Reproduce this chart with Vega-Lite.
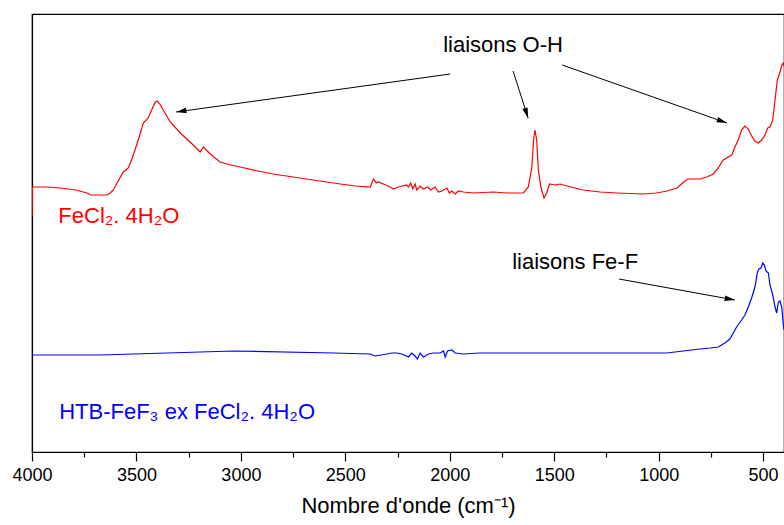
{
  "$schema": "https://vega.github.io/schema/vega-lite/v6.json",
  "width": 752,
  "height": 438,
  "autosize": {"type": "none"},
  "padding": {"left": 32, "top": 14, "right": 0, "bottom": 73},
  "config": {
    "font": "Liberation Sans",
    "view": {"stroke": "black", "strokeWidth": 1.2}
  },
  "datasets": {
    "spectra": [
      {"wn":4000,"a":2.36,"s":"FeCl2"},{"wn":3998,"a":2.65,"s":"FeCl2"},{"wn":3930,"a":2.65,"s":"FeCl2"},{"wn":3865,"a":2.64,"s":"FeCl2"},{"wn":3790,"a":2.62,"s":"FeCl2"},{"wn":3737,"a":2.59,"s":"FeCl2"},{"wn":3720,"a":2.57,"s":"FeCl2"},{"wn":3673,"a":2.57,"s":"FeCl2"},{"wn":3641,"a":2.57,"s":"FeCl2"},{"wn":3625,"a":2.59,"s":"FeCl2"},{"wn":3611,"a":2.62,"s":"FeCl2"},{"wn":3590,"a":2.70,"s":"FeCl2"},{"wn":3563,"a":2.80,"s":"FeCl2"},{"wn":3539,"a":2.84,"s":"FeCl2"},{"wn":3520,"a":2.94,"s":"FeCl2"},{"wn":3496,"a":3.09,"s":"FeCl2"},{"wn":3467,"a":3.29,"s":"FeCl2"},{"wn":3444,"a":3.34,"s":"FeCl2"},{"wn":3425,"a":3.43,"s":"FeCl2"},{"wn":3410,"a":3.50,"s":"FeCl2"},{"wn":3400,"a":3.51,"s":"FeCl2"},{"wn":3385,"a":3.47,"s":"FeCl2"},{"wn":3372,"a":3.42,"s":"FeCl2"},{"wn":3338,"a":3.30,"s":"FeCl2"},{"wn":3290,"a":3.19,"s":"FeCl2"},{"wn":3228,"a":3.07,"s":"FeCl2"},{"wn":3195,"a":3.00,"s":"FeCl2"},{"wn":3180,"a":3.05,"s":"FeCl2"},{"wn":3161,"a":3.01,"s":"FeCl2"},{"wn":3130,"a":2.95,"s":"FeCl2"},{"wn":3099,"a":2.90,"s":"FeCl2"},{"wn":3050,"a":2.87,"s":"FeCl2"},{"wn":3003,"a":2.85,"s":"FeCl2"},{"wn":2920,"a":2.81,"s":"FeCl2"},{"wn":2845,"a":2.78,"s":"FeCl2"},{"wn":2750,"a":2.75,"s":"FeCl2"},{"wn":2654,"a":2.72,"s":"FeCl2"},{"wn":2558,"a":2.69,"s":"FeCl2"},{"wn":2525,"a":2.68,"s":"FeCl2"},{"wn":2450,"a":2.66,"s":"FeCl2"},{"wn":2381,"a":2.65,"s":"FeCl2"},{"wn":2365,"a":2.73,"s":"FeCl2"},{"wn":2352,"a":2.69,"s":"FeCl2"},{"wn":2341,"a":2.70,"s":"FeCl2"},{"wn":2318,"a":2.68,"s":"FeCl2"},{"wn":2286,"a":2.65,"s":"FeCl2"},{"wn":2270,"a":2.63,"s":"FeCl2"},{"wn":2246,"a":2.65,"s":"FeCl2"},{"wn":2206,"a":2.67,"s":"FeCl2"},{"wn":2198,"a":2.65,"s":"FeCl2"},{"wn":2187,"a":2.69,"s":"FeCl2"},{"wn":2177,"a":2.63,"s":"FeCl2"},{"wn":2166,"a":2.68,"s":"FeCl2"},{"wn":2158,"a":2.62,"s":"FeCl2"},{"wn":2142,"a":2.66,"s":"FeCl2"},{"wn":2126,"a":2.63,"s":"FeCl2"},{"wn":2107,"a":2.65,"s":"FeCl2"},{"wn":2091,"a":2.62,"s":"FeCl2"},{"wn":2070,"a":2.65,"s":"FeCl2"},{"wn":2054,"a":2.60,"s":"FeCl2"},{"wn":2038,"a":2.61,"s":"FeCl2"},{"wn":2014,"a":2.64,"s":"FeCl2"},{"wn":2002,"a":2.59,"s":"FeCl2"},{"wn":1990,"a":2.61,"s":"FeCl2"},{"wn":1974,"a":2.58,"s":"FeCl2"},{"wn":1959,"a":2.61,"s":"FeCl2"},{"wn":1935,"a":2.60,"s":"FeCl2"},{"wn":1887,"a":2.59,"s":"FeCl2"},{"wn":1791,"a":2.60,"s":"FeCl2"},{"wn":1727,"a":2.59,"s":"FeCl2"},{"wn":1648,"a":2.59,"s":"FeCl2"},{"wn":1624,"a":2.65,"s":"FeCl2"},{"wn":1607,"a":2.85,"s":"FeCl2"},{"wn":1599,"a":3.12,"s":"FeCl2"},{"wn":1592,"a":3.22,"s":"FeCl2"},{"wn":1584,"a":3.12,"s":"FeCl2"},{"wn":1576,"a":2.82,"s":"FeCl2"},{"wn":1564,"a":2.65,"s":"FeCl2"},{"wn":1549,"a":2.54,"s":"FeCl2"},{"wn":1536,"a":2.59,"s":"FeCl2"},{"wn":1523,"a":2.68,"s":"FeCl2"},{"wn":1496,"a":2.67,"s":"FeCl2"},{"wn":1472,"a":2.68,"s":"FeCl2"},{"wn":1420,"a":2.65,"s":"FeCl2"},{"wn":1362,"a":2.62,"s":"FeCl2"},{"wn":1280,"a":2.60,"s":"FeCl2"},{"wn":1199,"a":2.59,"s":"FeCl2"},{"wn":1075,"a":2.58,"s":"FeCl2"},{"wn":1010,"a":2.59,"s":"FeCl2"},{"wn":960,"a":2.61,"s":"FeCl2"},{"wn":912,"a":2.64,"s":"FeCl2"},{"wn":880,"a":2.70,"s":"FeCl2"},{"wn":860,"a":2.73,"s":"FeCl2"},{"wn":802,"a":2.73,"s":"FeCl2"},{"wn":770,"a":2.75,"s":"FeCl2"},{"wn":738,"a":2.78,"s":"FeCl2"},{"wn":715,"a":2.84,"s":"FeCl2"},{"wn":691,"a":2.92,"s":"FeCl2"},{"wn":667,"a":2.95,"s":"FeCl2"},{"wn":650,"a":2.97,"s":"FeCl2"},{"wn":635,"a":3.05,"s":"FeCl2"},{"wn":619,"a":3.12,"s":"FeCl2"},{"wn":603,"a":3.22,"s":"FeCl2"},{"wn":587,"a":3.26,"s":"FeCl2"},{"wn":571,"a":3.23,"s":"FeCl2"},{"wn":555,"a":3.16,"s":"FeCl2"},{"wn":539,"a":3.11,"s":"FeCl2"},{"wn":523,"a":3.09,"s":"FeCl2"},{"wn":507,"a":3.12,"s":"FeCl2"},{"wn":491,"a":3.17,"s":"FeCl2"},{"wn":478,"a":3.24,"s":"FeCl2"},{"wn":467,"a":3.25,"s":"FeCl2"},{"wn":454,"a":3.32,"s":"FeCl2"},{"wn":443,"a":3.52,"s":"FeCl2"},{"wn":432,"a":3.72,"s":"FeCl2"},{"wn":419,"a":3.80,"s":"FeCl2"},{"wn":410,"a":3.87,"s":"FeCl2"},{"wn":404,"a":3.89,"s":"FeCl2"},{"wn":400,"a":3.86,"s":"FeCl2"},
      {"wn":4000,"a":0.97,"s":"HTB"},{"wn":3673,"a":0.97,"s":"HTB"},{"wn":3354,"a":0.99,"s":"HTB"},{"wn":3035,"a":1.01,"s":"HTB"},{"wn":2557,"a":0.99,"s":"HTB"},{"wn":2381,"a":0.98,"s":"HTB"},{"wn":2357,"a":0.96,"s":"HTB"},{"wn":2301,"a":0.98,"s":"HTB"},{"wn":2277,"a":0.99,"s":"HTB"},{"wn":2253,"a":0.99,"s":"HTB"},{"wn":2230,"a":0.98,"s":"HTB"},{"wn":2198,"a":0.95,"s":"HTB"},{"wn":2182,"a":0.99,"s":"HTB"},{"wn":2166,"a":0.96,"s":"HTB"},{"wn":2155,"a":0.93,"s":"HTB"},{"wn":2142,"a":0.99,"s":"HTB"},{"wn":2126,"a":0.95,"s":"HTB"},{"wn":2102,"a":0.98,"s":"HTB"},{"wn":2078,"a":0.99,"s":"HTB"},{"wn":2046,"a":0.99,"s":"HTB"},{"wn":2030,"a":1.01,"s":"HTB"},{"wn":2022,"a":0.95,"s":"HTB"},{"wn":2011,"a":1.01,"s":"HTB"},{"wn":1990,"a":1.02,"s":"HTB"},{"wn":1974,"a":0.99,"s":"HTB"},{"wn":1935,"a":0.98,"s":"HTB"},{"wn":1855,"a":0.99,"s":"HTB"},{"wn":1663,"a":0.99,"s":"HTB"},{"wn":1281,"a":0.99,"s":"HTB"},{"wn":960,"a":0.99,"s":"HTB"},{"wn":883,"a":1.01,"s":"HTB"},{"wn":802,"a":1.03,"s":"HTB"},{"wn":754,"a":1.04,"s":"HTB"},{"wn":715,"a":1.05,"s":"HTB"},{"wn":683,"a":1.09,"s":"HTB"},{"wn":659,"a":1.13,"s":"HTB"},{"wn":643,"a":1.19,"s":"HTB"},{"wn":627,"a":1.25,"s":"HTB"},{"wn":603,"a":1.32,"s":"HTB"},{"wn":587,"a":1.37,"s":"HTB"},{"wn":571,"a":1.45,"s":"HTB"},{"wn":555,"a":1.54,"s":"HTB"},{"wn":539,"a":1.65,"s":"HTB"},{"wn":528,"a":1.79,"s":"HTB"},{"wn":520,"a":1.83,"s":"HTB"},{"wn":510,"a":1.84,"s":"HTB"},{"wn":502,"a":1.89,"s":"HTB"},{"wn":494,"a":1.87,"s":"HTB"},{"wn":486,"a":1.81,"s":"HTB"},{"wn":475,"a":1.79,"s":"HTB"},{"wn":467,"a":1.67,"s":"HTB"},{"wn":454,"a":1.57,"s":"HTB"},{"wn":443,"a":1.45,"s":"HTB"},{"wn":435,"a":1.39,"s":"HTB"},{"wn":427,"a":1.50,"s":"HTB"},{"wn":419,"a":1.51,"s":"HTB"},{"wn":411,"a":1.45,"s":"HTB"},{"wn":404,"a":1.29,"s":"HTB"},{"wn":400,"a":1.22,"s":"HTB"}
    ],
    "arrows": [
      {"x":1998,"y":3.78,"x2":3310,"y2":3.40},
      {"x":1697,"y":3.81,"x2":1625,"y2":3.34},
      {"x":1462,"y":3.87,"x2":673,"y2":3.29},
      {"x":1190,"y":1.73,"x2":635,"y2":1.52}
    ],
    "notes": [
      {"wn":1745,"a":4.07,"t":"liaisons O-H","c":"black"},
      {"wn":1400,"a":1.90,"t":"liaisons Fe-F","c":"black"}
    ],
    "labels": [
      {"wn":3874,"a":2.29,"t":"FeCl₂. 4H₂O","c":"red"},
      {"wn":3870,"a":0.33,"t":"HTB-FeF₃ ex FeCl₂. 4H₂O","c":"blue"}
    ]
  },
  "layer": [
    {
      "data": {"name": "spectra"},
      "mark": {"type": "line", "strokeWidth": 1.2, "clip": true},
      "encoding": {
        "x": {
          "field": "wn", "type": "quantitative",
          "scale": {"domain": [400, 4000], "reverse": true, "nice": false, "zero": false},
          "axis": {
            "values": [4000,3750,3500,3250,3000,2750,2500,2250,2000,1750,1500,1250,1000,750,500],
            "labelExpr": "datum.value % 500 === 0 ? datum.label : ''",
            "format": "d",
            "tickSize": {"condition": {"test": "datum.value % 500 === 0", "value": 9}, "value": 5},
            "tickColor": "black", "tickWidth": 1.2,
            "domainColor": "black", "domainWidth": 1.2,
            "grid": false,
            "labelFontSize": 18, "labelColor": "black", "labelPadding": 5,
            "labelFlush": false, "labelOverlap": false,
            "title": "Nombre d'onde (cm⁻¹)",
            "titleFontSize": 22, "titleFontWeight": "normal", "titleColor": "black", "titlePadding": 11
          }
        },
        "y": {
          "field": "a", "type": "quantitative",
          "scale": {"domain": [0, 4.38], "nice": false, "zero": false},
          "axis": {"labels": false, "ticks": false, "grid": false, "title": null, "domainColor": "black", "domainWidth": 1.2}
        },
        "color": {
          "field": "s", "type": "nominal",
          "scale": {"domain": ["FeCl2", "HTB"], "range": ["#ff0000", "#0000ff"]},
          "legend": null
        }
      }
    },
    {
      "data": {"name": "arrows"},
      "mark": {"type": "rule", "color": "black", "strokeWidth": 1},
      "encoding": {
        "x": {"field": "x", "type": "quantitative"},
        "y": {"field": "y", "type": "quantitative"},
        "x2": {"field": "x2"},
        "y2": {"field": "y2"}
      }
    },
    {
      "data": {"name": "arrows"},
      "transform": [
        {"calculate": "atan2(-(datum.x2 - datum.x) / 4.785, (datum.y2 - datum.y) * 100) * 180 / PI", "as": "ang"}
      ],
      "mark": {"type": "point", "shape": "M0,0 L0.27,1 L-0.27,1 Z", "filled": true, "color": "black", "opacity": 1, "size": 420, "strokeWidth": 0},
      "encoding": {
        "x": {"field": "x2", "type": "quantitative"},
        "y": {"field": "y2", "type": "quantitative"},
        "angle": {"field": "ang", "type": "quantitative", "scale": null}
      }
    },
    {
      "data": {"name": "notes"},
      "mark": {"type": "text", "fontSize": 22, "font": "Liberation Sans", "align": "center", "baseline": "middle"},
      "encoding": {
        "x": {"field": "wn", "type": "quantitative"},
        "y": {"field": "a", "type": "quantitative"},
        "text": {"field": "t"},
        "color": {"field": "c", "type": "nominal", "scale": null}
      }
    },
    {
      "data": {"name": "labels"},
      "mark": {"type": "text", "fontSize": 22, "font": "Liberation Sans", "align": "left", "baseline": "alphabetic"},
      "encoding": {
        "x": {"field": "wn", "type": "quantitative"},
        "y": {"field": "a", "type": "quantitative"},
        "text": {"field": "t"},
        "color": {"field": "c", "type": "nominal", "scale": null}
      }
    }
  ]
}
